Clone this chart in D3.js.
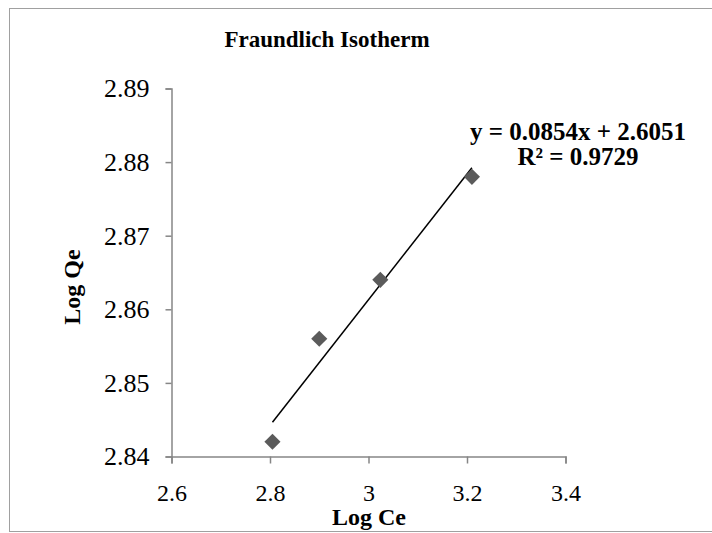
<!DOCTYPE html>
<html>
<head>
<meta charset="utf-8">
<script src="https://cdn.jsdelivr.net/npm/d3@7"></script>
<style>
  body { margin: 0; background: #fff; }
  svg text { font-family: "Liberation Serif", "Times New Roman", serif; }
</style>
</head>
<body>
<script>
// Data
var logCe = [2.805, 2.900, 3.024, 3.210];
var logQe = [2.842, 2.856, 2.864, 2.878];
var xTicks = [2.6, 2.8, 3.0, 3.2, 3.4];
var yTicks = [2.84, 2.85, 2.86, 2.87, 2.88, 2.89];
var slope = 0.0854, intercept = 2.6051;
var eqLines = ["y = 0.0854x + 2.6051", "R² = 0.9729"];

var W = 712, H = 533;
var svg = d3.select("body").append("svg")
    .attr("width", W)
    .attr("height", H);

// outer chart frame
svg.append("rect")
    .attr("x", 9.5).attr("y", 8.5)
    .attr("width", W + 10).attr("height", 523)
    .attr("fill", "#fff")
    .attr("stroke", "#a0a0a0");

var x = d3.scaleLinear().domain([2.6, 3.4]).range([171.5, 565.5]);
var y = d3.scaleLinear().domain([2.84, 2.89]).range([456.5, 88.5]);

// axes
var xAxis = svg.append("g")
    .attr("transform", "translate(0," + y(2.84) + ")")
    .call(d3.axisBottom(x).tickValues(xTicks).tickSize(7).tickPadding(20)
        .tickFormat(function(d) { return d3.format("")(+d.toFixed(1)); }));
var yAxis = svg.append("g")
    .attr("transform", "translate(" + x(2.6) + ",0)")
    .call(d3.axisLeft(y).tickValues(yTicks).tickSize(6).tickPadding(16)
        .tickFormat(function(d) { return d3.format(".2f")(d); }));

[xAxis, yAxis].forEach(function(g) {
    g.select(".domain").attr("stroke", "#868686").attr("stroke-width", 1.5);
    g.selectAll(".tick line").attr("stroke", "#868686").attr("stroke-width", 1.5);
    g.selectAll(".tick text")
        .attr("fill", "#000")
        .style("font-family", "Liberation Serif, serif");
});
xAxis.selectAll(".tick text").style("font-size", "24px");
yAxis.selectAll(".tick text").style("font-size", "26px");

// trend line
svg.append("line")
    .attr("x1", x(d3.min(logCe))).attr("y1", y(slope * d3.min(logCe) + intercept))
    .attr("x2", x(d3.max(logCe))).attr("y2", y(slope * d3.max(logCe) + intercept))
    .attr("stroke", "#000")
    .attr("stroke-width", 1.5);

// points
var diamond = d3.symbol().type(d3.symbolSquare).size(130);
svg.selectAll(".pt")
    .data(logCe)
    .enter().append("path")
    .attr("class", "pt")
    .attr("d", diamond)
    .attr("transform", function(d, i) {
        return "translate(" + x(d) + "," + y(logQe[i]) + ") rotate(45)";
    })
    .attr("fill", "#5b5b5b");

// title
svg.append("text")
    .attr("x", 327).attr("y", 47)
    .attr("text-anchor", "middle")
    .style("font-size", "23px")
    .style("font-weight", "bold")
    .text("Fraundlich Isotherm");

// equation
svg.selectAll(".eq")
    .data(eqLines)
    .enter().append("text")
    .attr("class", "eq")
    .attr("x", 578)
    .attr("y", function(d, i) { return 140 + i * 25; })
    .attr("text-anchor", "middle")
    .style("font-size", "25px")
    .style("font-weight", "bold")
    .text(function(d) { return d; });

// axis titles
svg.append("text")
    .attr("x", 369).attr("y", 525)
    .attr("text-anchor", "middle")
    .style("font-size", "24px")
    .style("font-weight", "bold")
    .text("Log Ce");

svg.append("text")
    .attr("transform", "translate(80,287) rotate(-90)")
    .attr("text-anchor", "middle")
    .style("font-size", "24px")
    .style("font-weight", "bold")
    .text("Log Qe");
</script>
</body>
</html>
